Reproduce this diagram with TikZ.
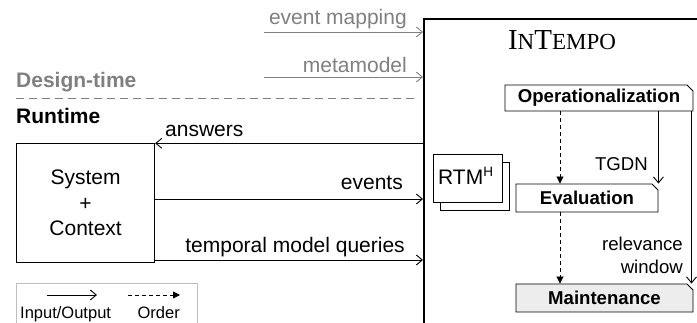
\documentclass[tikz,border=0pt]{standalone}
\usepackage{fontspec}
\setmainfont{Liberation Sans}
\newfontfamily\titlefont{Liberation Serif}
\usetikzlibrary{arrows.meta,shapes.misc,calc}

\definecolor{designgray}{gray}{0.5}
\definecolor{stagefill}{gray}{0.93}
\definecolor{legendline}{gray}{0.75}

\tikzset{
  big/.style={font=\fontsize{21}{24}\selectfont, inner sep=0pt},
  small/.style={font=\fontsize{18.6}{22}\selectfont, inner sep=0pt},
  tiny/.style={font=\fontsize{16.5}{20}\selectfont, inner sep=0pt},
  io/.style={line width=0.9pt, -{Straight Barb[length=6pt,width=10pt,line width=0.9pt]}},
  order/.style={line width=0.9pt, dash pattern=on 4pt off 3pt,
    -{Stealth[length=7pt,width=7pt,inset=0pt]}},
  stage/.style={chamfered rectangle, chamfered rectangle corners=north east,
    chamfered rectangle xsep=3pt, chamfered rectangle ysep=3pt,
    draw, line width=0.9pt, inner sep=0pt,
    font=\bfseries\fontsize{18.6}{22}\selectfont},
  plainbox/.style={draw, line width=1.2pt, inner sep=0pt},
}

\begin{document}
\begin{tikzpicture}[x=1pt,y=-1pt]
\useasboundingbox (0,0) rectangle (697,323);
\clip (0,0) rectangle (697,323);

% the InTempo frame, running past the page edges
\node[draw, line width=1.8pt, minimum width=320pt, minimum height=330pt,
  anchor=north west, inner sep=0pt] (frame) at (423,18) {};
\node[anchor=base, inner sep=0pt] (title) at (562,50)
  {\titlefont\fontsize{29}{32}\selectfont I\fontsize{23}{26}\selectfont N\fontsize{29}{32}\selectfont T\fontsize{23}{26}\selectfont EMPO};

% design-time inputs
\coordinate (emap) at (264,32);
\coordinate (mmod) at (264,77);
\draw[io, designgray] (emap) -- (emap -| frame.west);
\draw[io, designgray] (mmod) -- (mmod -| frame.west);
\node[big, text=designgray, anchor=base east] (emaplbl) at (407,25) {event mapping};
\node[big, text=designgray, anchor=base east] (mmodlbl) at (407,73) {metamodel};

% design-time / runtime divider
\node[big, text=designgray, anchor=base west, font=\bfseries\fontsize{21}{24}\selectfont] (design) at (16,88) {Design-time};
\coordinate (divl) at (16,99);
\coordinate (divr) at (418,99);
\draw[designgray, line width=1pt, dash pattern=on 8pt off 5pt] (divl) -- (divr);
\node[big, anchor=base west, font=\bfseries\fontsize{21}{24}\selectfont] (runtime) at (16,124) {Runtime};

% managed system
\node[plainbox, minimum width=138pt, minimum height=119pt, anchor=north west,
  align=center, font=\fontsize{21}{25.5}\selectfont] (sys) at (16,143)
  {System\\+\\Context};

\coordinate (ans) at (423,143.3);
\draw[io] (ans) -- (ans -| sys.east);
\node[big, anchor=base west] (anslbl) at (165,137) {answers};

\coordinate (ev) at (154,199);
\draw[io] (ev) -- (ev -| frame.west);
\node[big, anchor=base east] (evlbl) at (403,190) {events};

\coordinate (tq) at (154,260);
\draw[io] (tq) -- (tq -| frame.west);
\node[big, anchor=base east] (tqlbl) at (405,253) {temporal model queries};

% runtime model history
\node[plainbox, line width=1pt, fill=white, minimum width=69pt, minimum height=48pt,
  anchor=north west] (rtmback) at (440,162) {};
\node[plainbox, line width=1pt, fill=white, minimum width=69pt, minimum height=48pt,
  anchor=north west] (rtm) at (433,154) {};
\node[anchor=base west, inner sep=0pt, font=\fontsize{21}{24}\selectfont] (rtmlbl) at (438,185)
  {RTM\raisebox{0.42em}{\fontsize{13.5}{15}\selectfont H}};

% processing stages
\node[stage, minimum width=188pt, minimum height=26pt] (op) at (599,98) {Operationalization};
\node[stage, minimum width=142pt, minimum height=28pt] (eval) at (587,198) {Evaluation};
\node[stage, fill=stagefill, minimum width=177pt, minimum height=28pt] (maint) at (604.5,298) {Maintenance};

\coordinate (spine) at (560,0);
\draw[order] (op.south -| spine) -- (eval.north -| spine);
\draw[order] (eval.south -| spine) -- (maint.north -| spine);

\draw[io] (op.south -| eval.east) -- (eval.north -| eval.east);
\node[small, anchor=base east] (tgdn) at (648,171) {TGDN};

\coordinate (relx) at (691.5,0);
\draw[io] (op.south -| relx) -- (maint.north -| relx);
\node[small, anchor=base east] (rel1) at (683,251) {relevance};
\node[small, anchor=base east] (rel2) at (683,274) {window};

% legend
\node[draw=legendline, line width=1pt, minimum width=181pt, minimum height=60pt,
  anchor=north west, inner sep=0pt] (legend) at (16,283) {};
\coordinate (l1a) at (47,295);
\coordinate (l1b) at (97,295);
\coordinate (l2a) at (128,295);
\coordinate (l2b) at (180,295);
\draw[io, line width=0.8pt] (l1a) -- (l1b);
\draw[order, line width=0.8pt] (l2a) -- (l2b);
\node[tiny, anchor=base west] (iolbl) at (20,319) {Input/Output};
\node[tiny, anchor=base east] (ordlbl) at (180,319) {Order};
\end{tikzpicture}
\end{document}
